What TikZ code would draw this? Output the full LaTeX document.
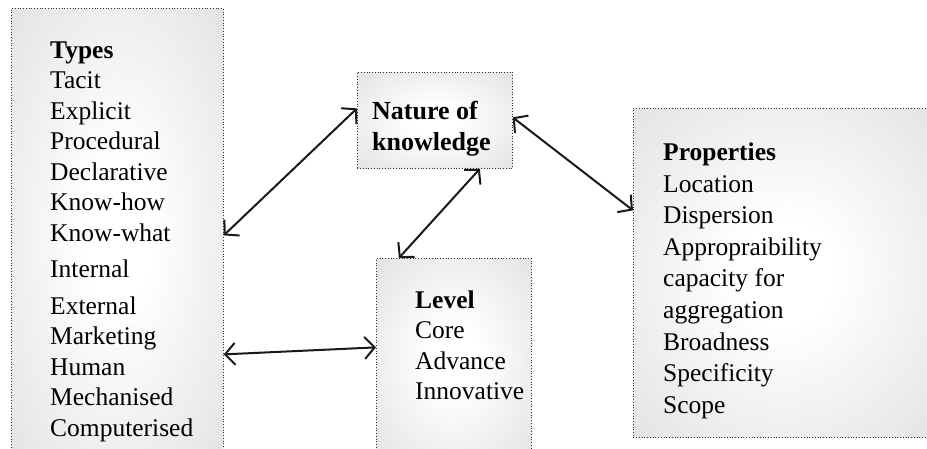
\documentclass[tikz,border=0pt]{standalone}
\usepackage{fontspec}
\setmainfont{Liberation Serif}
\usetikzlibrary{arrows.meta}
\definecolor{boxgray}{RGB}{212,213,217}
\pgfdeclareradialshading{boxshade}{\pgfpoint{0bp}{0bp}}{color(0bp)=(white); color(8bp)=(white); color(50bp)=(boxgray); color(75bp)=(boxgray)}
\tikzset{
	kbox/.style={draw=black!80, dotted, line width=0.75pt, shade, shading=boxshade, inner sep=0pt, anchor=north west},
	ktext/.style={inner sep=0pt, anchor=north west, align=left, font=\fontsize{25.5}{30.5}\selectfont},
	link/.style={{Straight Barb[length=10pt,width=22pt]}-{Straight Barb[length=10pt,width=22pt]}, line width=2pt, black!90}
}
\begin{document}
\begin{tikzpicture}[x=1pt,y=-1pt]
	\useasboundingbox (0,0) rectangle (927,448);
	% boxes
	\node[kbox, minimum width=212pt, minimum height=452pt] (types) at (11,8) {};
	\node[kbox, minimum width=155pt, minimum height=96pt] (nature) at (357,72) {};
	\node[kbox, minimum width=155pt, minimum height=200pt] (level) at (376,258) {};
	\node[kbox, minimum width=302pt, minimum height=329pt] (props) at (633,108) {};
	% texts
	\node[ktext] (typestext) at (50,41.5) {\textbf{Types}\\Tacit\\Explicit\\Procedural\\Declarative\\Know-how\\Know-what\\[6pt]Internal\\[6pt]External\\Marketing\\Human\\Mechanised\\Computerised};
	\node[ktext, font=\fontsize{26}{31}\selectfont\bfseries] (naturetext) at (372,101) {Nature of\\knowledge};
	\node[ktext] (leveltext) at (415,290.5) {\textbf{Level}\\Core\\Advance\\Innovative};
	\node[ktext, font=\fontsize{25.5}{31.6}\selectfont] (propstext) at (663,142.5) {\textbf{Properties}\\Location\\Dispersion\\Appropraibility\\capacity for\\aggregation\\Broadness\\Specificity\\Scope};
	% links
	\draw[link] ([yshift=-1pt]types.east) -- ([yshift=12pt]nature.west);
	\draw[link] ([yshift=3pt]nature.east) -- ([yshift=62.5pt]props.west);
	\draw[link] ([xshift=45pt]nature.south) -- ([xshift=-55pt]level.north);
	\draw[link] ([yshift=-120pt]types.east) -- ([yshift=11pt]level.west);
\end{tikzpicture}
\end{document}
